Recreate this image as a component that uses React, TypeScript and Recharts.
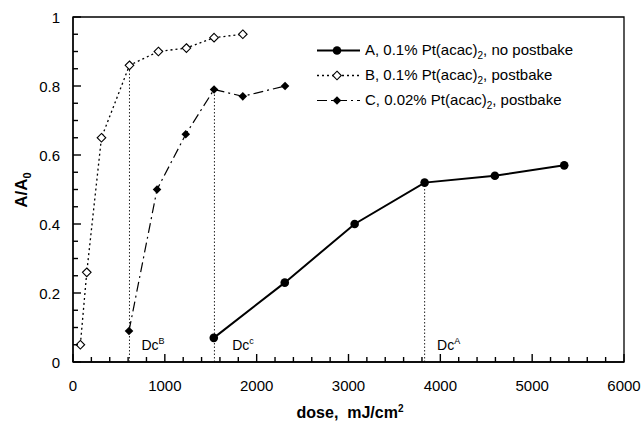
import { ComposedChart, Line, XAxis, YAxis, ReferenceLine, ReferenceArea, Scatter } from 'recharts';

const FONT = '"Liberation Sans", Arial, sans-serif';

// series A: 0.1% Pt(acac)2, no postbake
const seriesA = [
  { dose: 1533, r: 0.07 },
  { dose: 2306, r: 0.23 },
  { dose: 3067, r: 0.4 },
  { dose: 3829, r: 0.52 },
  { dose: 4594, r: 0.54 },
  { dose: 5349, r: 0.57 },
];

// series B: 0.1% Pt(acac)2, postbake
const seriesB = [
  { dose: 80, r: 0.05 },
  { dose: 150, r: 0.26 },
  { dose: 310, r: 0.65 },
  { dose: 615, r: 0.86 },
  { dose: 930, r: 0.9 },
  { dose: 1235, r: 0.91 },
  { dose: 1536, r: 0.94 },
  { dose: 1849, r: 0.95 },
];

// series C: 0.02% Pt(acac)2, postbake
const seriesC = [
  { dose: 610, r: 0.09 },
  { dose: 915, r: 0.5 },
  { dose: 1228, r: 0.66 },
  { dose: 1536, r: 0.79 },
  { dose: 1849, r: 0.77 },
  { dose: 2309, r: 0.8 },
];

// Dc markers: dotted drop lines and their labels
const dcLines = [
  { dose: 615, top: 0.86 },
  { dose: 1540, top: 0.79 },
  { dose: 3829, top: 0.52 },
];
const dcLabels = [
  { dose: 745, r: 0.05, sup: 'B' },
  { dose: 1734, r: 0.05, sup: 'c' },
  { dose: 3964, r: 0.05, sup: 'A' },
];

const xTicks = [
  0, 200, 400, 600, 800, 1000, 1200, 1400, 1600, 1800, 2000, 2200, 2400, 2600, 2800, 3000,
  3200, 3400, 3600, 3800, 4000, 4200, 4400, 4600, 4800, 5000, 5200, 5400, 5600, 5800, 6000,
];
const yTicks = [
  0, 0.05, 0.1, 0.15, 0.2, 0.25, 0.3, 0.35, 0.4, 0.45, 0.5, 0.55, 0.6, 0.65, 0.7, 0.75, 0.8,
  0.85, 0.9, 0.95, 1,
];

const legendItems = [
  { key: 'A', label: 'A, 0.1% Pt(acac)', tail: ', no postbake' },
  { key: 'B', label: 'B, 0.1% Pt(acac)', tail: ', postbake' },
  { key: 'C', label: 'C, 0.02% Pt(acac)', tail: ', postbake' },
];

const lineStyle: Record<string, { width: number; dash?: string }> = {
  A: { width: 2 },
  B: { width: 1.3, dash: '2 3' },
  C: { width: 1.2, dash: '10 4 2 4' },
};

function Marker({ kind, cx, cy }: { kind: string; cx: number; cy: number }) {
  if (kind === 'A') return <circle cx={cx} cy={cy} r={4.3} fill="#000" />;
  const h = 4.3;
  const pts = `${cx},${cy - h} ${cx + h},${cy} ${cx},${cy + h} ${cx - h},${cy}`;
  if (kind === 'B') return <polygon points={pts} fill="#fff" stroke="#000" strokeWidth={1.1} />;
  return <polygon points={pts} fill="#000" />;
}

// inward ticks: long at labelled values, short in between
const XTick = (props: any) => {
  const { x, y, payload } = props;
  const v = payload.value;
  const major = v % 1000 === 0;
  return (
    <g>
      <line x1={x} x2={x} y1={y} y2={y - (major ? 8 : 5)} stroke="#000" strokeWidth={1.4} />
      {major && (
        <text x={x} y={y + 29} textAnchor="middle" fontSize={15} fontFamily={FONT} fill="#000">
          {v}
        </text>
      )}
    </g>
  );
};

const YTick = (props: any) => {
  const { x, y, payload } = props;
  const v = payload.value;
  const major = Math.abs(v * 5 - Math.round(v * 5)) < 1e-6;
  const label = v === 0 ? '0' : v === 1 ? '1' : v.toFixed(1);
  return (
    <g>
      <line x1={x} x2={x + (major ? 8 : 5)} y1={y} y2={y} stroke="#000" strokeWidth={1.4} />
      {major && (
        <text x={x - 13} y={y + 5.5} textAnchor="end" fontSize={15} fontFamily={FONT} fill="#000">
          {label}
        </text>
      )}
    </g>
  );
};

const DcLabel = (props: any) => {
  const { cx, cy, payload } = props;
  return (
    <text x={cx} y={cy + 5} fontSize={14} fontFamily={FONT} fill="#000">
      Dc
      <tspan dy={-6} fontSize={9}>
        {payload.sup}
      </tspan>
    </text>
  );
};

function Legend() {
  return (
    <div style={{ position: 'absolute', left: 310, top: 38, fontFamily: FONT, fontSize: 15 }}>
      {legendItems.map((it) => {
        const st = lineStyle[it.key];
        return (
          <div key={it.key} style={{ display: 'flex', alignItems: 'center', height: 25 }}>
            <svg width={50} height={25}>
              <line x1={7} x2={50} y1={12.5} y2={12.5} stroke="#000" strokeWidth={st.width} strokeDasharray={st.dash} />
              <Marker kind={it.key} cx={27} cy={12.5} />
            </svg>
            <span style={{ marginLeft: 5, whiteSpace: 'nowrap' }}>
              {it.label}
              <sub style={{ fontSize: 10 }}>2</sub>
              {it.tail}
            </span>
          </div>
        );
      })}
    </div>
  );
}

export default function App() {
  return (
    <div style={{ position: 'absolute', left: 0, top: 0, width: 643, height: 422, background: '#fff' }}>
      <ComposedChart width={643} height={422} margin={{ top: 17, right: 19, bottom: 0, left: 0 }}>
        <XAxis
          type="number"
          dataKey="dose"
          domain={[0, 6000]}
          ticks={xTicks}
          interval={0}
          tickSize={0}
          tickMargin={0}
          tickLine={false}
          tick={<XTick />}
          height={60}
          axisLine={{ stroke: '#000', strokeWidth: 1.3 }}
          allowDataOverflow
        />
        <YAxis
          type="number"
          dataKey="r"
          domain={[0, 1]}
          ticks={yTicks}
          interval={0}
          tickSize={0}
          tickMargin={0}
          tickLine={false}
          tick={<YTick />}
          width={73}
          axisLine={{ stroke: '#000', strokeWidth: 1.3 }}
          allowDataOverflow
        />
        <ReferenceArea x1={0} x2={6000} y1={0} y2={1} fill="none" stroke="#000" strokeWidth={1.3} />
        {dcLines.map((d) => (
          <ReferenceLine
            key={d.dose}
            segment={[
              { x: d.dose, y: 0 },
              { x: d.dose, y: d.top },
            ]}
            stroke="#222"
            strokeWidth={1}
            strokeDasharray="1.5 2"
          />
        ))}
        <Line
          data={seriesB}
          dataKey="r"
          stroke="#000"
          strokeWidth={lineStyle.B.width}
          strokeDasharray={lineStyle.B.dash}
          dot={(p: any) => <Marker key={p.index} kind="B" cx={p.cx} cy={p.cy} />}
          isAnimationActive={false}
        />
        <Line
          data={seriesC}
          dataKey="r"
          stroke="#000"
          strokeWidth={lineStyle.C.width}
          strokeDasharray={lineStyle.C.dash}
          dot={(p: any) => <Marker key={p.index} kind="C" cx={p.cx} cy={p.cy} />}
          isAnimationActive={false}
        />
        <Line
          data={seriesA}
          dataKey="r"
          stroke="#000"
          strokeWidth={lineStyle.A.width}
          dot={(p: any) => <Marker key={p.index} kind="A" cx={p.cx} cy={p.cy} />}
          isAnimationActive={false}
        />
        <Scatter data={dcLabels} dataKey="r" shape={<DcLabel />} isAnimationActive={false} />
      </ComposedChart>
      <svg width={643} height={422} style={{ position: 'absolute', left: 0, top: 0, pointerEvents: 'none' }}>
        <text
          transform="translate(27,190) rotate(-90)"
          textAnchor="middle"
          fontSize={17}
          fontWeight="bold"
          fontFamily={FONT}
        >
          A/A<tspan dy={4} fontSize={11}>0</tspan>
        </text>
        <text x={350} y={418} textAnchor="middle" fontSize={16} fontWeight="bold" fontFamily={FONT}>
          {'dose,\u00a0 mJ/cm'}
          <tspan dy={-6} fontSize={10}>2</tspan>
        </text>
      </svg>
      <Legend />
    </div>
  );
}
